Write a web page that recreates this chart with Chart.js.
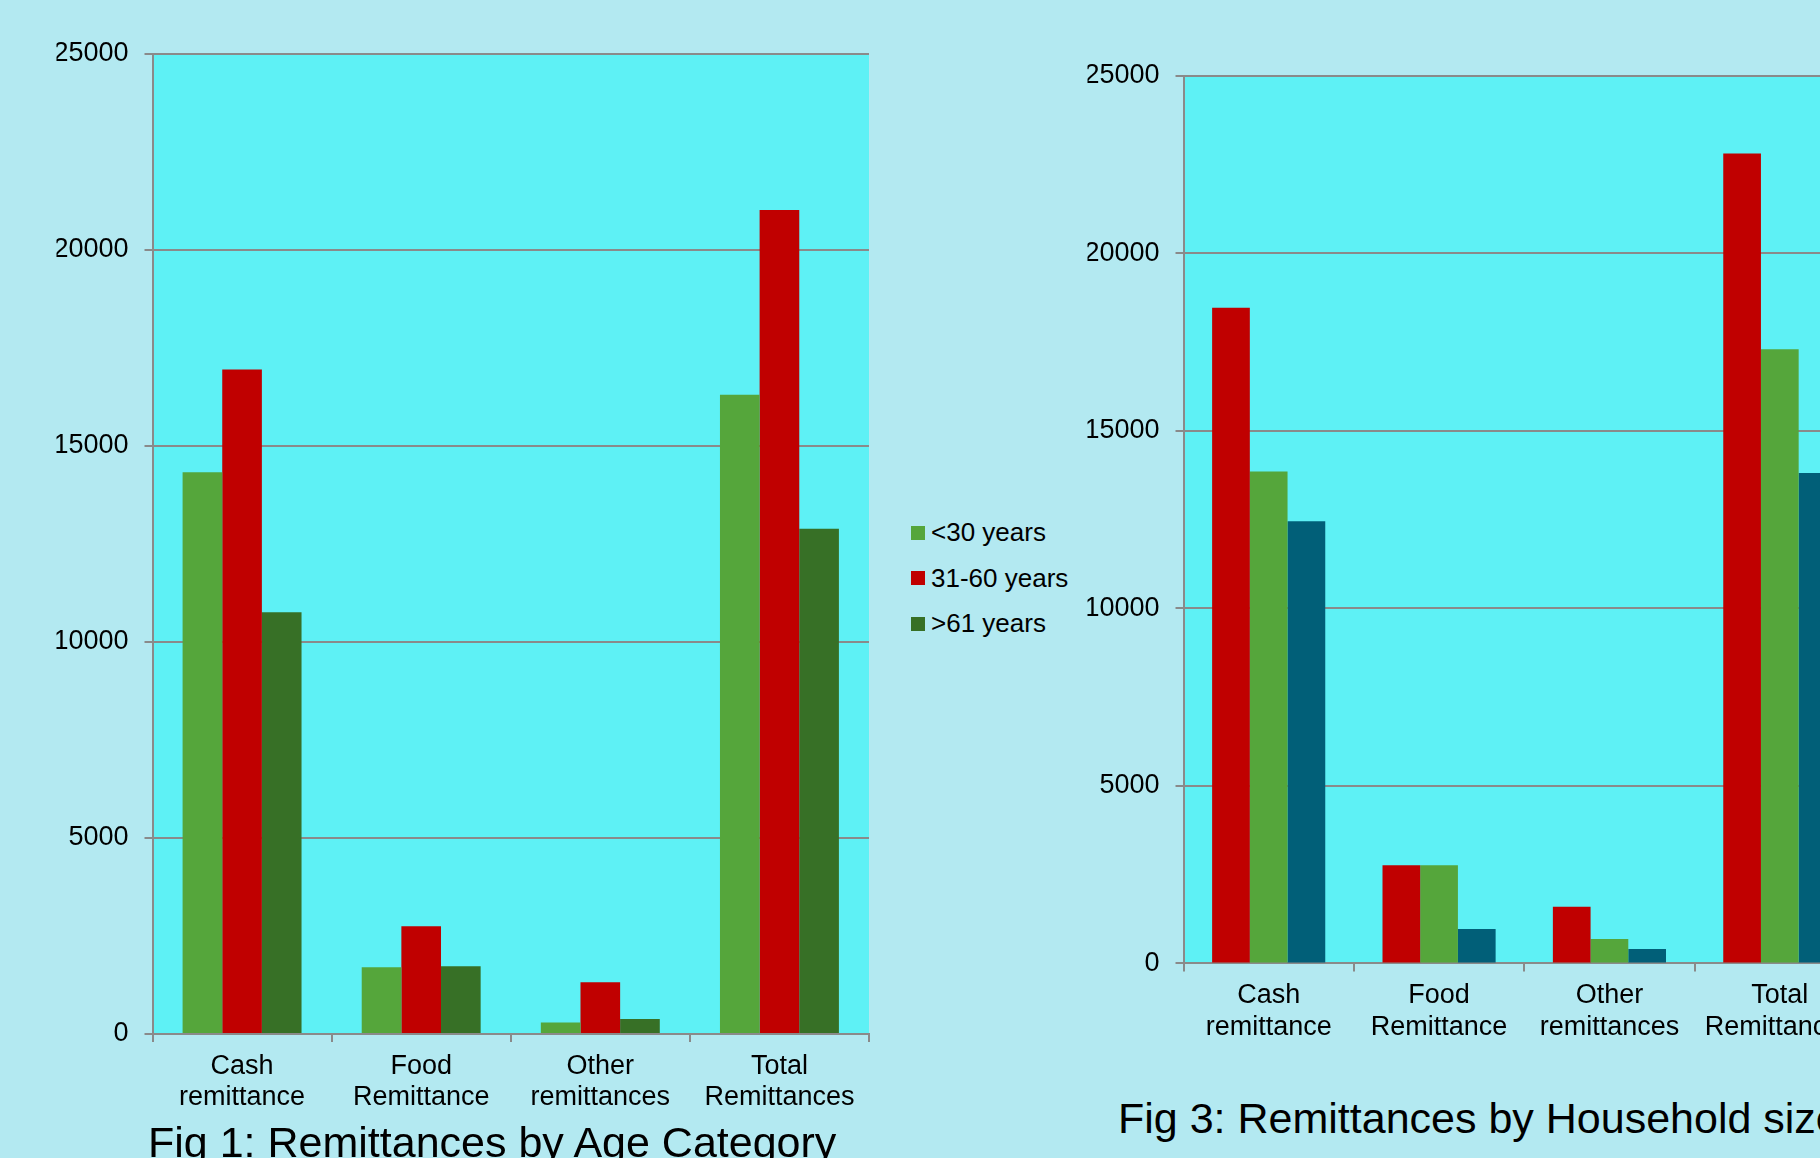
<!DOCTYPE html>
<html>
<head>
<meta charset="utf-8">
<script src="https://cdn.jsdelivr.net/npm/chart.js@4/dist/chart.umd.min.js"></script>
<style>
  html, body { margin: 0; padding: 0; }
  body {
    width: 1820px; height: 1158px; overflow: hidden; position: relative;
    background: #B3E9F1;
    font-family: "Liberation Sans", Arial, sans-serif;
  }
  .box { position: absolute; }
  #fig1 { left: 0; top: 0; width: 880px; height: 1158px; }
  #fig3 { left: 1087px; top: 0; width: 778px; height: 1059px; }
  .caption {
    position: absolute; font-size: 43px; line-height: 48px; color: #000; white-space: nowrap;
  }
  #cap1 { left: 148px; top: 1118px; }
  #cap3 { left: 1118px; top: 1094px; }
  #legend1 {
    position: absolute; left: 911px; top: 510px; margin: 0; padding: 0; list-style: none;
    font-size: 26px; color: #000;
  }
  #legend1 li { display: flex; align-items: center; height: 45.5px; white-space: nowrap; }
  #legend1 span.sw { display: inline-block; width: 14px; height: 14px; margin-right: 6px; }
</style>
</head>
<body>
<div class="box" id="fig1"><canvas id="c1"></canvas></div>
<ul id="legend1"></ul>
<div class="caption" id="cap1">Fig 1: Remittances by Age Category</div>
<div class="box" id="fig3"><canvas id="c3"></canvas></div>
<div class="caption" id="cap3">Fig 3: Remittances by Household size</div>
<script>
// Remittance categories (multi-line axis labels)
const categories = [
  ["Cash", "remittance"],
  ["Food", "Remittance"],
  ["Other", "remittances"],
  ["Total", "Remittances"]
];

// Fig 1: remittances by age category
const ageLabels = ["<30 years", "31-60 years", ">61 years"];
const ageUnder30 = [14330, 1700, 295, 16310];
const age31to60  = [16950, 2750, 1320, 21020];
const ageOver61  = [10760, 1725, 380, 12890];

// Fig 3: remittances by household size
const sizeLabels = ["Small household", "Medium household", "Large household"];
const sizeSmall  = [18470, 2765, 1600, 22820];
const sizeMedium = [13860, 2765, 690, 17300];
const sizeLarge  = [12460, 970, 405, 13820];

const yTicks = [0, 5000, 10000, 15000, 20000, 25000];

const FONT = { family: "'Liberation Sans', Arial, sans-serif", size: 27, lineHeight: 1.167 };
const GRID = '#8A8A8A';

// Fills the plotting area behind the bars
const plotFill = {
  id: 'plotFill',
  beforeDraw(chart, args, opts) {
    const { ctx, chartArea: a } = chart;
    ctx.save();
    ctx.fillStyle = opts.color;
    ctx.fillRect(a.left, a.top, a.right - a.left, a.bottom - a.top);
    ctx.restore();
  }
};

function makeOptions(pad) {
  return {
    responsive: true,
    maintainAspectRatio: false,
    animation: false,
    layout: { padding: pad },
    plugins: {
      legend: { display: false },
      tooltip: { enabled: false },
      plotFill: { color: '#5EF1F5' }
    },
    scales: {
      x: {
        grid: { display: true, drawOnChartArea: false, drawTicks: true, tickLength: 8, color: GRID, lineWidth: 2, offset: true },
        border: { display: true, color: GRID, width: 2 },
        ticks: { color: '#000', font: FONT, padding: 8.5, maxRotation: 0, autoSkip: false }
      },
      y: {
        min: 0, max: 25000,
        afterBuildTicks(scale) { scale.ticks = yTicks.map(v => ({ value: v })); },
        afterFit(scale) { scale.width = 96; },
        grid: { color: GRID, lineWidth: 2, tickLength: 8, drawTicks: true },
        border: { display: true, color: GRID, width: 2 },
        ticks: { color: '#000', font: FONT, padding: 16, callback: v => String(v) }
      }
    },
    datasets: { bar: { categoryPercentage: 0.664, barPercentage: 1.0, borderWidth: 0 } }
  };
}

const chart1 = new Chart(document.getElementById('c1'), {
  type: 'bar',
  data: {
    labels: categories,
    datasets: [
      { label: ageLabels[0], data: ageUnder30, backgroundColor: '#55A63B' },
      { label: ageLabels[1], data: age31to60,  backgroundColor: '#C00000' },
      { label: ageLabels[2], data: ageOver61,  backgroundColor: '#377026' }
    ]
  },
  options: makeOptions({ left: 56.5, top: 54, right: 11, bottom: 36 }),
  plugins: [plotFill]
});

new Chart(document.getElementById('c3'), {
  type: 'bar',
  data: {
    labels: categories,
    datasets: [
      { label: sizeLabels[0], data: sizeSmall,  backgroundColor: '#C00000' },
      { label: sizeLabels[1], data: sizeMedium, backgroundColor: '#55A63B' },
      { label: sizeLabels[2], data: sizeLarge,  backgroundColor: '#015F78' }
    ]
  },
  options: makeOptions({ left: 0.5, top: 76, right: 0, bottom: 7.5 }),
  plugins: [plotFill]
});

// Legend for Fig 1 built from the chart's own legend items
const ul = document.getElementById('legend1');
chart1.options.plugins.legend.labels.generateLabels(chart1).forEach(item => {
  const li = document.createElement('li');
  const sw = document.createElement('span');
  sw.className = 'sw';
  sw.style.background = item.fillStyle;
  li.appendChild(sw);
  li.appendChild(document.createTextNode(item.text));
  ul.appendChild(li);
});
</script>
</body>
</html>
